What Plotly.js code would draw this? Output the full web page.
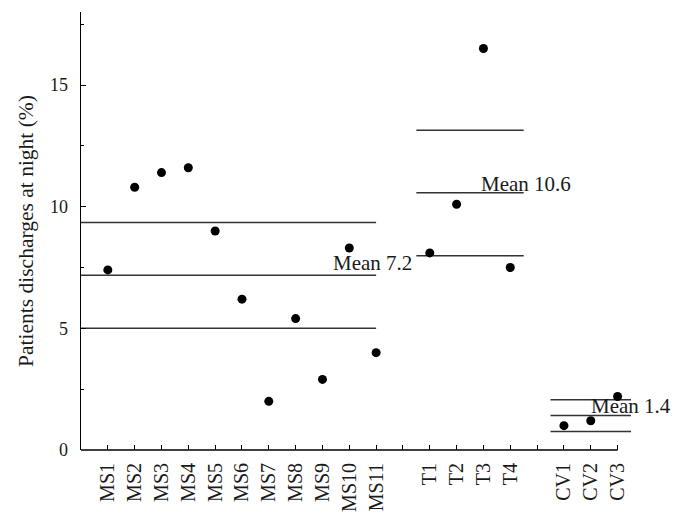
<!DOCTYPE html>
<html>
<head>
<meta charset="utf-8">
<script src="https://cdn.plot.ly/plotly-3.0.1.min.js"></script>
<style>html,body{margin:0;padding:0;background:#fff;}#chart{width:683px;height:524px;}</style>
</head>
<body>
<div id="chart"></div>
<script>
// Categories (groups separated by an empty slot on the axis)
const msLabels = ["MS1","MS2","MS3","MS4","MS5","MS6","MS7","MS8","MS9","MS10","MS11"];
const tLabels = ["T1","T2","T3","T4"];
const cvLabels = ["CV1","CV2","CV3"];

// Night discharge percentages
const msValues = [7.4, 10.8, 11.4, 11.6, 9.0, 6.2, 2.0, 5.4, 2.9, 8.3, 4.0];
const tValues = [8.1, 10.1, 16.5, 7.5];
const cvValues = [1.0, 1.2, 2.2];

// Reference lines per group: upper, mean, lower
const msLines = [9.35, 7.18, 5.0];
const tLines = [13.14, 10.57, 7.98];
const cvLines = [2.07, 1.42, 0.76];

// Mean labels
const meanLabels = ["Mean 7.2", "Mean 10.6", "Mean 1.4"];

// y ticks
const yTickVals = [0, 5, 10, 15];

// Positions on the numeric x axis
const msX = msLabels.map((_, i) => i + 1);
const tX = tLabels.map((_, i) => msLabels.length + 2 + i);
const cvX = cvLabels.map((_, i) => msLabels.length + tLabels.length + 3 + i);
const allTickVals = [];
const allTickText = [];
for (let i = 1; i <= cvX[cvX.length - 1]; i++) {
  allTickVals.push(i);
  let lbl = "";
  let k = msX.indexOf(i); if (k >= 0) lbl = msLabels[k];
  k = tX.indexOf(i); if (k >= 0) lbl = tLabels[k];
  k = cvX.indexOf(i); if (k >= 0) lbl = cvLabels[k];
  allTickText.push(lbl);
}

const FONT = "Liberation Serif, Times New Roman, serif";
const TXT = "#1a1a1a";
const lineStyle = {color: "#333", width: 1.5};

const traces = [];
function addLines(values, x0, x1) {
  values.forEach(v => {
    traces.push({x: [x0, x1], y: [v, v], mode: "lines", line: lineStyle, hoverinfo: "skip", showlegend: false});
  });
}
addLines(msLines, 0, msX[msX.length - 1]);
addLines(tLines, tX[0] - 0.5, tX[tX.length - 1] + 0.5);
addLines(cvLines, cvX[0] - 0.5, cvX[cvX.length - 1] + 0.5);

traces.push({
  x: msX.concat(tX, cvX),
  y: msValues.concat(tValues, cvValues),
  mode: "markers",
  marker: {color: "#000", size: 9},
  cliponaxis: false,
  showlegend: false
});

const layout = {
  width: 683, height: 524,
  margin: {l: 81, r: 52, t: 12, b: 74},
  paper_bgcolor: "#fff", plot_bgcolor: "#fff",
  font: {family: FONT, size: 18, color: TXT},
  xaxis: {
    range: [0, 20.5],
    tickmode: "array", tickvals: allTickVals, ticktext: allTickText,
    tickangle: -90,
    ticks: "inside", ticklen: 5, tickwidth: 1, tickcolor: "#000",
    showline: false, showgrid: false, zeroline: false,
    ticklabelstandoff: 8,
    tickfont: {family: FONT, size: 20, color: TXT}
  },
  yaxis: {
    range: [0, 18],
    tickmode: "array", tickvals: yTickVals,
    ticks: "inside", ticklen: 5, tickwidth: 1, tickcolor: "#000",
    minor: {tickvals: [2.5, 7.5, 12.5, 17.5], ticks: "inside", ticklen: 3, tickwidth: 1, tickcolor: "#000"},
    showline: true, linecolor: "#000", linewidth: 1.5,
    showgrid: false, zeroline: false,
    ticklabelstandoff: 8,
    tickfont: {family: FONT, size: 18, color: TXT},
    title: {text: "Patients discharges at night (%)", font: {family: FONT, size: 21.5, color: TXT}, standoff: 10}
  },
  shapes: [{
    type: "line", xref: "x", yref: "paper",
    x0: 0, x1: cvX[cvX.length - 1], y0: 0, y1: 0,
    line: {color: "#000", width: 1.5}
  }],
  annotations: [
    {x: 12.4, y: 7.7, xref: "x", yref: "y", text: meanLabels[0], showarrow: false, xanchor: "right", yanchor: "middle", font: {family: FONT, size: 21, color: TXT}},
    {x: 14.85, y: 10.94, xref: "x", yref: "y", text: meanLabels[1], showarrow: false, xanchor: "left", yanchor: "middle", font: {family: FONT, size: 21, color: TXT}},
    {x: 18.95, y: 1.79, xref: "x", yref: "y", text: meanLabels[2], showarrow: false, xanchor: "left", yanchor: "middle", font: {family: FONT, size: 21, color: TXT}}
  ]
};

Plotly.newPlot("chart", traces, layout, {displayModeBar: false, staticPlot: true});
</script>
</body>
</html>
